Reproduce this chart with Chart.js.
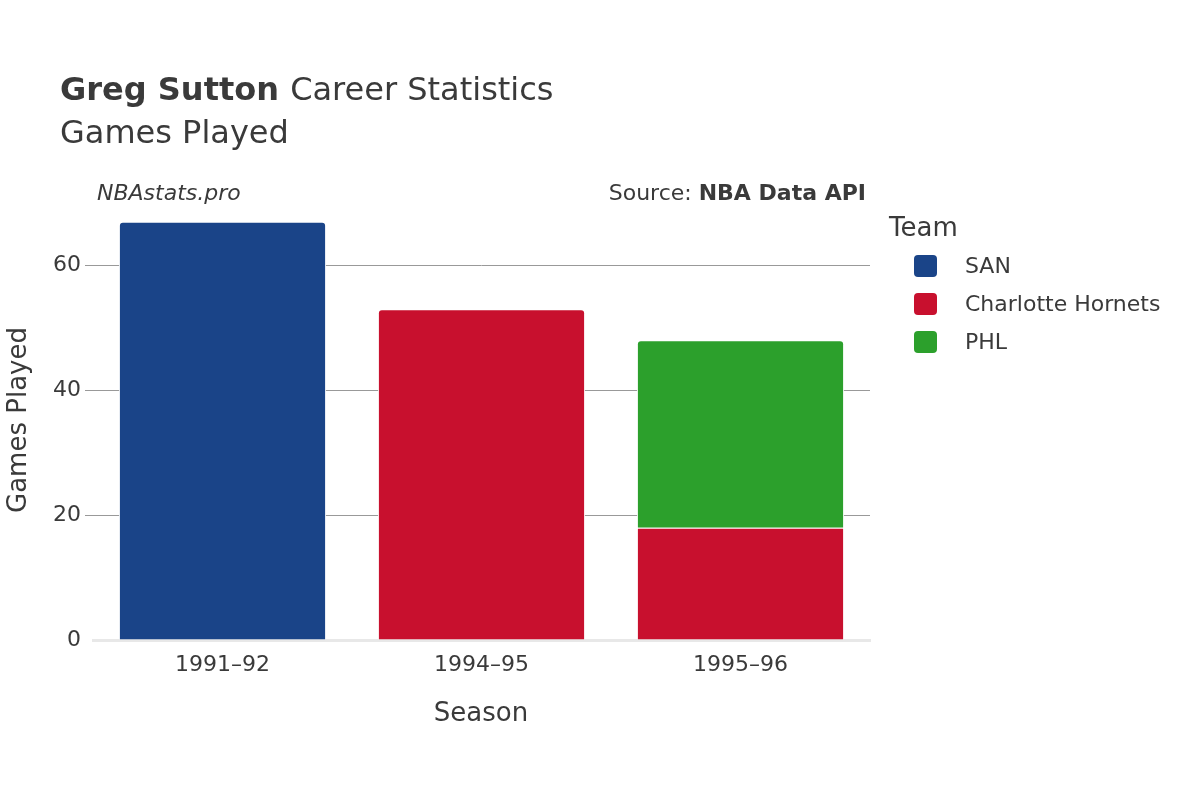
<!DOCTYPE html>
<html>
<head>
<meta charset="utf-8">
<script src="https://cdn.jsdelivr.net/npm/chart.js@4"></script>
<style>
  html, body { margin: 0; padding: 0; background: #fff; }
  #wrap { width: 1200px; height: 800px; }
</style>
</head>
<body>
<div id="wrap"><canvas id="chart" width="1200" height="800"></canvas></div>
<script>
const seasons = ['1991–92', '1994–95', '1995–96'];
const teams = ['SAN', 'Charlotte Hornets', 'PHL'];
const teamColors = ['#1a4488', '#c8102e', '#2ca02c'];
const sanGames = [67, 0, 0];
const charlotteGames = [0, 53, 18];
const phlGames = [0, 0, 30];
const yTicks = [0, 20, 40, 60];
const FONT = '"DejaVu Sans", "Noto Sans", sans-serif';
const TEXT = '#3a3a3a';

const overlay = {
  id: 'overlay',
  afterDraw(chart) {
    const c = chart.ctx;
    c.save();
    c.fillStyle = TEXT;
    c.textBaseline = 'alphabetic';
    c.textAlign = 'left';
    c.font = 'bold 32px ' + FONT;
    c.fillText('Greg Sutton', 60, 100);
    const w = c.measureText('Greg Sutton ').width;
    c.font = '32px ' + FONT;
    c.fillText('Career Statistics', 60 + w, 100);
    c.fillText('Games Played', 60, 143);

    c.font = 'italic 22px ' + FONT;
    c.fillText('NBAstats.pro', 97, 200);
    c.textAlign = 'right';
    c.font = 'bold 22px ' + FONT;
    c.fillText('NBA Data API', 866, 200);
    const bw = c.measureText('NBA Data API').width;
    c.font = '22px ' + FONT;
    c.fillText('Source: ', 866 - bw, 200);

    c.textAlign = 'center';
    c.font = '26px ' + FONT;
    c.fillText('Season', 481, 721);
    c.save();
    c.translate(26, 420);
    c.rotate(-Math.PI / 2);
    c.fillText('Games Played', 0, 0);
    c.restore();

    c.textAlign = 'left';
    c.fillText('Team', 889, 236);
    c.font = '22px ' + FONT;
    teams.forEach((t, i) => {
      const y = 266 + i * 38;
      c.fillStyle = teamColors[i];
      c.beginPath();
      c.roundRect(914, y - 11, 23, 22, 4);
      c.fill();
      c.fillStyle = TEXT;
      c.textBaseline = 'middle';
      c.fillText(t, 965, y + 1);
    });
    c.restore();
  }
};

const mk = (label, data, color) => ({
  label, data,
  backgroundColor: color,
  borderColor: '#ffffff',
  borderWidth: 1,
  borderSkipped: 'bottom',
  borderRadius: 4,
  barPercentage: 0.8,
  categoryPercentage: 1
});

new Chart(document.getElementById('chart'), {
  type: 'bar',
  data: {
    labels: seasons,
    datasets: [
      mk(teams[0], sanGames, teamColors[0]),
      mk(teams[1], charlotteGames, teamColors[1]),
      mk(teams[2], phlGames, teamColors[2])
    ]
  },
  options: {
    responsive: false,
    animation: false,
    layout: { padding: { top: 203, right: 330, bottom: 0, left: 0 } },
    plugins: { legend: { display: false }, tooltip: { enabled: false } },
    scales: {
      x: {
        stacked: true,
        grid: { display: false },
        border: { color: '#e8e8e8', width: 3 },
        ticks: { color: TEXT, font: { size: 22, family: FONT }, padding: 4 },
        afterFit: s => { s.height = 160; }
      },
      y: {
        stacked: true,
        min: 0, max: 70,
        afterBuildTicks: s => { s.ticks = yTicks.map(v => ({ value: v })); },
        grid: { color: ctx => ctx.tick.value === 0 ? 'rgba(0,0,0,0)' : '#999999', lineWidth: 1 },
        border: { display: false },
        ticks: { color: TEXT, font: { size: 22, family: FONT }, padding: 4 },
        afterFit: s => { s.width = 93; }
      }
    }
  },
  plugins: [overlay]
});
</script>
</body>
</html>
